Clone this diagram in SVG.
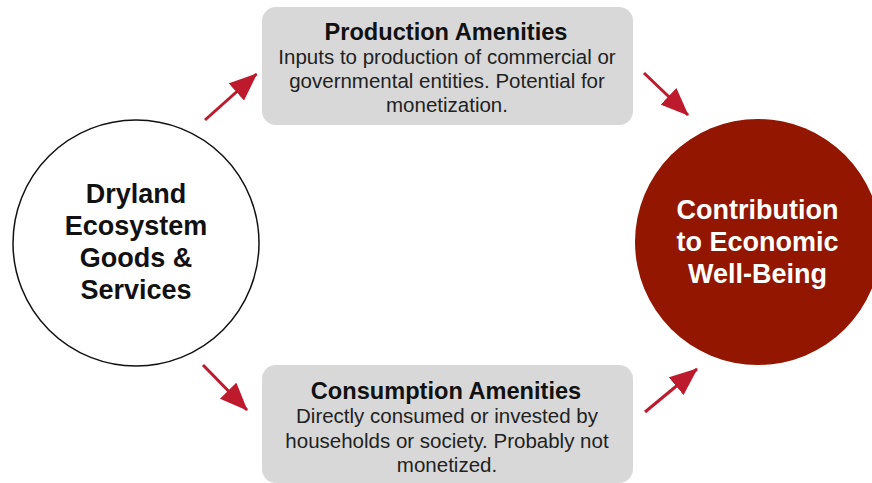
<svg xmlns="http://www.w3.org/2000/svg" width="872" height="483" viewBox="0 0 872 483">
  <style>
    .box { fill: #d8d8d8; }
    .title { font-family: "Liberation Sans", Arial, sans-serif; font-weight: bold; font-size: 23.6px; fill: #111; text-anchor: middle; }
    .body { font-family: "Liberation Sans", Arial, sans-serif; font-size: 20.5px; fill: #222; text-anchor: middle; }
    .big { font-family: "Liberation Sans", Arial, sans-serif; font-weight: bold; font-size: 27px; text-anchor: middle; }
    .conn { stroke: #bd1a2d; stroke-width: 3; fill: none; marker-end: url(#head); }
  </style>
  <defs>
    <marker id="head" viewBox="0 0 28 23" refX="27" refY="11.5" markerWidth="28" markerHeight="23" markerUnits="userSpaceOnUse" orient="auto">
      <path d="M0,0 L28,11.5 L0,23 z" fill="#bd1a2d"/>
    </marker>
  </defs>
  <rect width="872" height="483" fill="#ffffff"/>

  <g id="source">
    <circle cx="136" cy="243" r="123" fill="#ffffff" stroke="#111" stroke-width="1.5"/>
    <text class="big" fill="#111" x="136" y="203">Dryland</text>
    <text class="big" fill="#111" x="136" y="235">Ecosystem</text>
    <text class="big" fill="#111" x="136" y="267">Goods &amp;</text>
    <text class="big" fill="#111" x="136" y="299">Services</text>
  </g>

  <g id="production">
    <rect class="box" x="262" y="7" width="371" height="118" rx="14" ry="14"/>
    <text class="title" x="446" y="40">Production Amenities</text>
    <text class="body" x="447" y="64">Inputs to production of commercial or</text>
    <text class="body" x="447" y="88">governmental entities. Potential for</text>
    <text class="body" x="447" y="112">monetization.</text>
  </g>

  <g id="consumption">
    <rect class="box" x="262" y="365" width="371" height="118" rx="14" ry="14"/>
    <text class="title" x="446" y="399">Consumption Amenities</text>
    <text class="body" x="447" y="423">Directly consumed or invested by</text>
    <text class="body" x="447" y="447.5">households or society. Probably not</text>
    <text class="body" x="447" y="471.5">monetized.</text>
  </g>

  <g id="wellbeing">
    <circle cx="758" cy="242" r="123" fill="#921600"/>
    <text class="big" fill="#ffffff" x="757.5" y="219">Contribution</text>
    <text class="big" fill="#ffffff" x="757.5" y="251">to Economic</text>
    <text class="big" fill="#ffffff" x="757.5" y="283">Well-Being</text>
  </g>

  <g id="connectors">
    <line class="conn" x1="205" y1="120" x2="256.5" y2="74"/>
    <line class="conn" x1="644" y1="73" x2="688" y2="115"/>
    <line class="conn" x1="203" y1="365" x2="247" y2="410"/>
    <line class="conn" x1="645" y1="412" x2="697" y2="369"/>
  </g>
</svg>
